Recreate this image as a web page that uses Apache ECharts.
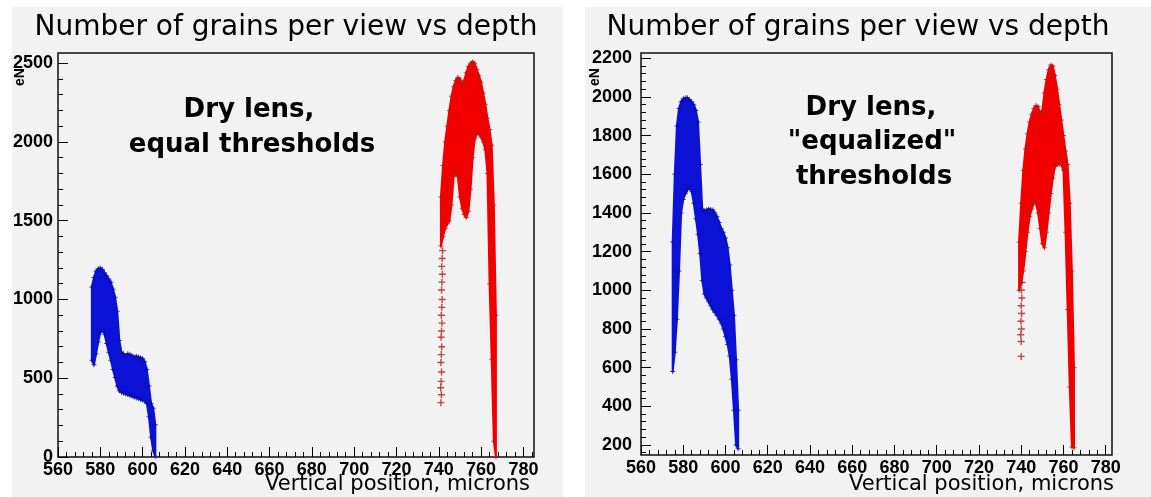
<!DOCTYPE html>
<html>
<head>
<meta charset="utf-8">
<script src="https://cdn.jsdelivr.net/npm/echarts@6/dist/echarts.min.js"></script>
<style>
  html, body { margin: 0; padding: 0; background: #ffffff; }
  #chart { width: 1151px; height: 497px; }
</style>
</head>
<body>
<div id="chart"></div>
<script>
// ---- left pad: dry lens, equal thresholds ----
// blue cloud, one column per micron: x, lowest and highest eN
const eqBlueX  = [576, 577, 578, 579, 580, 581, 582, 583, 584, 585, 586, 587, 588, 589, 590, 591, 592, 593, 594, 595, 596, 597, 598, 599, 600, 601, 602, 603, 604, 605, 606]
const eqBlueLo = [615, 585, 655, 730, 790, 810, 780, 720, 665, 615, 555, 505, 450, 420, 410, 405, 400, 395, 390, 385, 380, 375, 370, 365, 360, 355, 340, 255, 125, 40, 5]
const eqBlueHi = [1080, 1140, 1180, 1195, 1200, 1190, 1170, 1150, 1130, 1110, 1065, 1015, 925, 740, 665, 655, 645, 655, 650, 645, 635, 640, 635, 630, 625, 605, 555, 450, 340, 310, 205]

// red cloud
const eqRedX  = [741, 742, 743, 744, 745, 746, 747, 748, 749, 750, 751, 752, 753, 754, 755, 756, 757, 758, 759, 760, 761, 762, 763, 764, 765, 766, 767]
const eqRedLo = [1340, 1400, 1450, 1480, 1500, 1600, 1780, 1800, 1780, 1650, 1580, 1540, 1520, 1560, 1700, 1900, 2020, 2050, 2050, 2030, 2000, 1950, 1800, 1100, 620, 100, 0]
const eqRedHi = [1650, 1850, 2000, 2100, 2200, 2290, 2350, 2390, 2410, 2400, 2370, 2390, 2440, 2480, 2500, 2510, 2500, 2460, 2420, 2380, 2310, 2240, 2150, 2080, 1980, 1600, 900]
// single markers on the lower left leg
const eqRedSparseX = [741.0, 741.2, 740.9, 741.1, 741.3, 741.0, 741.2, 741.4, 741.1, 741.3, 741.5, 741.2, 741.4, 741.6, 741.3, 741.5, 741.7, 741.4, 741.6, 741.8]
const eqRedSparseY = [345, 395, 440, 480, 540, 600, 650, 700, 760, 800, 850, 900, 950, 1000, 1060, 1110, 1160, 1210, 1260, 1310]

// ---- right pad: dry lens, "equalized" thresholds ----
const eqzBlueX  = [575, 576, 577, 578, 579, 580, 581, 582, 583, 584, 585, 586, 587, 588, 589, 590, 591, 592, 593, 594, 595, 596, 597, 598, 599, 600, 601, 602, 603, 604, 605, 606]
const eqzBlueLo = [580, 680, 850, 1100, 1400, 1470, 1500, 1520, 1530, 1510, 1450, 1370, 1290, 1190, 1050, 980, 960, 940, 920, 900, 885, 870, 850, 830, 800, 760, 720, 660, 540, 380, 200, 180]
const eqzBlueHi = [1250, 1600, 1850, 1940, 1975, 1990, 1995, 1995, 1985, 1975, 1960, 1930, 1870, 1650, 1420, 1410, 1415, 1420, 1418, 1415, 1400, 1380, 1350, 1320, 1300, 1270, 1220, 1130, 1000, 870, 640, 380]

const eqzRedX  = [739, 740, 741, 742, 743, 744, 745, 746, 747, 748, 749, 750, 751, 752, 753, 754, 755, 756, 757, 758, 759, 760, 761, 762, 763, 764, 765]
const eqzRedLo = [1000, 1040, 1100, 1200, 1300, 1380, 1420, 1450, 1450, 1400, 1320, 1240, 1220, 1300, 1400, 1500, 1580, 1640, 1650, 1650, 1650, 1620, 1300, 900, 500, 190, 185]
const eqzRedHi = [1250, 1450, 1620, 1730, 1810, 1870, 1910, 1940, 1955, 1950, 1910, 1930, 2020, 2090, 2140, 2165, 2160, 2110, 2040, 1960, 1880, 1800, 1720, 1650, 1450, 1100, 600]
const eqzRedSparseX = [740.0, 740.0, 739.8, 740.1, 739.9, 740.2, 740.0, 740.3, 740.1, 740.4]
const eqzRedSparseY = [658, 735, 770, 800, 840, 880, 920, 960, 1000, 1040]

// axes
const xTicks    = [560, 580, 600, 620, 640, 660, 680, 700, 720, 740, 760, 780]
const eqYTicks  = [0, 500, 1000, 1500, 2000, 2500]
const eqzYTicks = [200, 400, 600, 800, 1000, 1200, 1400, 1600, 1800, 2000, 2200]

const BLUE = '#0c12d6'
const BLUE_EDGE = '#0a0fa8'
const RED = '#f20000'
const RED_EDGE = '#b81818'
const PAD = '#f2f2f2'
const PLUS = 'path://M4,0h2v4h4v2h-4v4h-2v-4h-4v-2h4z'

function minorTicks(from, to, step, major) {
  const out = []
  for (let v = from; v <= to + 1e-9; v += step) {
    if (Math.abs(v / major - Math.round(v / major)) > 1e-6) out.push(v)
  }
  return out
}

const labelFont = { fontFamily: 'Liberation Sans', fontWeight: 'bold', fontSize: 18, color: '#000' }

function makeAxes(dim, gridIndex, min, max, majors, minors, margin) {
  const common = {
    type: 'value', gridIndex, min, max,
    position: dim === 'x' ? 'bottom' : 'left',
    splitLine: { show: false },
    axisLine: { show: false, onZero: false }
  }
  return [
    {
      ...common,
      axisTick: { show: true, inside: true, length: 10, customValues: majors, lineStyle: { color: '#000', width: 1 } },
      axisLabel: { ...labelFont, margin, customValues: majors, formatter: v => String(v) }
    },
    {
      ...common,
      axisTick: { show: true, inside: true, length: 5, customValues: minors, lineStyle: { color: '#000', width: 1 } },
      axisLabel: { show: false }
    }
  ]
}

const pts = (xs, ys) => xs.map((x, i) => [x, ys[i]])

// dense part of a cloud: one filled outline, up along the highest values and back along the lowest
function cloud(name, xs, lo, hi, color, edge, axis) {
  return [
    {
      name, type: 'custom', xAxisIndex: axis, yAxisIndex: axis, clip: true, silent: true,
      data: xs.map((x, i) => [x, lo[i], hi[i]]),
      encode: { x: 0, y: [1, 2] },
      renderItem(params, api) {
        if (params.dataIndex !== 0) return null
        const top = xs.map((x, i) => api.coord([x, hi[i]]))
        const bottom = xs.map((x, i) => api.coord([x, lo[i]])).reverse()
        return {
          type: 'polygon',
          shape: { points: top.concat(bottom) },
          style: { fill: color, stroke: color, lineWidth: 2, lineJoin: 'round' }
        }
      }
    },
    markers(name + ' edge low', pts(xs, lo), edge, axis, 5),
    markers(name + ' edge high', pts(xs, hi), edge, axis, 5)
  ]
}

function markers(name, data, color, axis, size) {
  return {
    name, type: 'scatter', xAxisIndex: axis, yAxisIndex: axis,
    data, silent: true,
    symbol: PLUS,
    symbolSize: size,
    itemStyle: { color }
  }
}

const chart = echarts.init(document.getElementById('chart'), null, { renderer: 'canvas' })

const gridStyle = { show: true, borderColor: '#111', borderWidth: 1.5, backgroundColor: 'transparent', containLabel: false, outerBoundsMode: 'none' }

const option = {
  backgroundColor: '#ffffff',
  animation: false,
  grid: [
    { ...gridStyle, left: 58, top: 53, width: 476, height: 404 },
    { ...gridStyle, left: 641, top: 53, width: 471, height: 402 }
  ],
  xAxis: [
    ...makeAxes('x', 0, 560, 785, xTicks, minorTicks(560, 785, 4, 20), 4),
    ...makeAxes('x', 1, 560, 783, xTicks, minorTicks(560, 783, 4, 20), 4)
  ],
  yAxis: [
    ...makeAxes('y', 0, 0, 2565, eqYTicks, minorTicks(0, 2565, 100, 500), 5),
    ...makeAxes('y', 1, 148, 2227, eqzYTicks, minorTicks(160, 2227, 40, 200), 9)
  ],
  graphic: {
    elements: [
      { type: 'rect', z: -10, shape: { x: 12, y: 7, width: 551, height: 490 }, style: { fill: PAD } },
      { type: 'rect', z: -10, shape: { x: 585, y: 7, width: 566, height: 490 }, style: { fill: PAD } },
      // titles
      { type: 'text', x: 286, y: 28, style: { text: 'Number of grains per view vs depth', font: '28px "DejaVu Sans"', fill: '#000', align: 'center', verticalAlign: 'middle' } },
      { type: 'text', x: 858, y: 28, style: { text: 'Number of grains per view vs depth', font: '28px "DejaVu Sans"', fill: '#000', align: 'center', verticalAlign: 'middle' } },
      // inset notes
      { type: 'text', x: 249, y: 110, style: { text: 'Dry lens,', font: 'bold 26px "DejaVu Sans"', fill: '#000', align: 'center', verticalAlign: 'middle' } },
      { type: 'text', x: 252, y: 145, style: { text: 'equal thresholds', font: 'bold 26px "DejaVu Sans"', fill: '#000', align: 'center', verticalAlign: 'middle' } },
      { type: 'text', x: 871, y: 108, style: { text: 'Dry lens,', font: 'bold 26px "DejaVu Sans"', fill: '#000', align: 'center', verticalAlign: 'middle' } },
      { type: 'text', x: 872, y: 142, style: { text: '"equalized"', font: 'bold 26px "DejaVu Sans"', fill: '#000', align: 'center', verticalAlign: 'middle' } },
      { type: 'text', x: 874, y: 177, style: { text: 'thresholds', font: 'bold 26px "DejaVu Sans"', fill: '#000', align: 'center', verticalAlign: 'middle' } },
      // axis titles
      { type: 'text', x: 530, y: 485, style: { text: 'Vertical position, microns', font: '21px "DejaVu Sans"', fill: '#000', align: 'right', verticalAlign: 'middle' } },
      { type: 'text', x: 1114, y: 485, style: { text: 'Vertical position, microns', font: '21px "DejaVu Sans"', fill: '#000', align: 'right', verticalAlign: 'middle' } },
      { type: 'text', x: 20, y: 77, rotation: Math.PI / 2, style: { text: 'eN', font: 'bold 14px "Liberation Sans"', fill: '#000', align: 'center', verticalAlign: 'middle' } },
      { type: 'text', x: 595, y: 77, rotation: Math.PI / 2, style: { text: 'eN', font: 'bold 14px "Liberation Sans"', fill: '#000', align: 'center', verticalAlign: 'middle' } }
    ]
  },
  series: [
    ...cloud('equal blue', eqBlueX, eqBlueLo, eqBlueHi, BLUE, BLUE_EDGE, 0),
    ...cloud('equal red', eqRedX, eqRedLo, eqRedHi, RED, RED_EDGE, 0),
    markers('equal red tail', pts(eqRedSparseX, eqRedSparseY), RED_EDGE, 0, 7),
    ...cloud('equalized blue', eqzBlueX, eqzBlueLo, eqzBlueHi, BLUE, BLUE_EDGE, 2),
    ...cloud('equalized red', eqzRedX, eqzRedLo, eqzRedHi, RED, RED_EDGE, 2),
    markers('equalized red tail', pts(eqzRedSparseX, eqzRedSparseY), RED_EDGE, 2, 7)
  ]
}

chart.setOption(option)
</script>
</body>
</html>
